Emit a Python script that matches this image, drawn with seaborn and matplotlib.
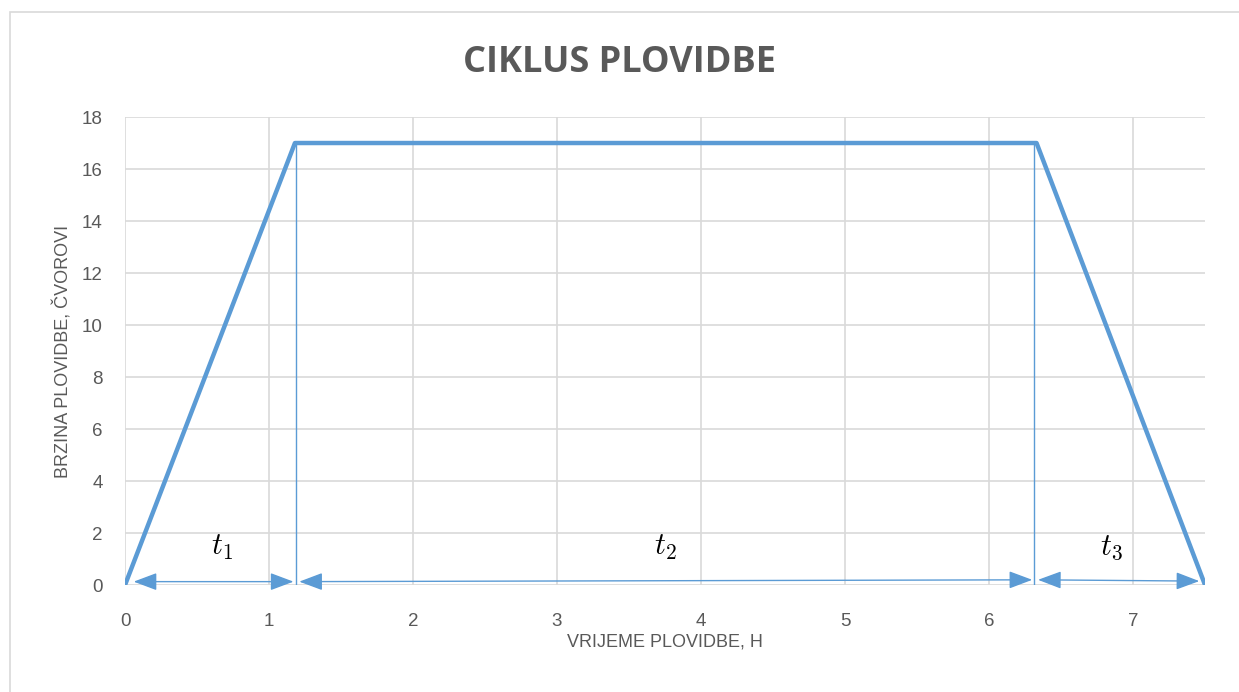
import pandas as pd
import matplotlib.pyplot as plt
import seaborn as sns

# Speed profile (time in hours, speed in knots)
time_h = [0, 1.18, 6.33, 7.5]
speed_kn = [0, 17, 17, 0]

# Thin markers separating the phases
split_times = [1.19, 6.31]
split_top = 17

# Phase arrows along the time axis: start, end, height
arrow_start = [0.06, 1.21, 6.34]
arrow_end = [1.17, 6.30, 7.46]
arrow_y0 = [0.13, 0.13, 0.2]
arrow_y1 = [0.13, 0.2, 0.15]
phase_labels = ['$t_1$', '$t_2$', '$t_3$']
phase_label_x = [0.67, 3.75, 6.85]
phase_label_y = [1.45, 1.45, 1.45]

x_ticks = [0, 1, 2, 3, 4, 5, 6, 7]
y_ticks = [0, 2, 4, 6, 8, 10, 12, 14, 16, 18]

blue = '#5B9BD5'
grey_text = '#595959'

sns.set_theme(style='white')
plt.rcParams['font.family'] = ['Liberation Sans', 'DejaVu Sans']
plt.rcParams['mathtext.fontset'] = 'cm'

fig = plt.figure(figsize=(12.39, 6.92), dpi=100)
ax = fig.add_axes([0.1009, 0.1546, 0.8717, 0.6763])

df = pd.DataFrame({'t': time_h, 'v': speed_kn})
sns.lineplot(data=df, x='t', y='v', color=blue, linewidth=3.2, sort=False,
             estimator=None, ax=ax, zorder=4)

for xs in split_times:
    split_df = pd.DataFrame({'t': [xs, xs], 'v': [0, split_top]})
    sns.lineplot(data=split_df, x='t', y='v', color=blue, linewidth=1.0,
                 estimator=None, sort=False, ax=ax, zorder=3)

for x0, x1, y0, y1 in zip(arrow_start, arrow_end, arrow_y0, arrow_y1):
    ax.annotate('', xy=(x1, y1), xytext=(x0, y0),
                arrowprops=dict(arrowstyle='<|-|>,head_length=1.2,head_width=0.45',
                                color=blue, lw=1.0, shrinkA=0, shrinkB=0), zorder=3)

for lbl, lx, ly in zip(phase_labels, phase_label_x, phase_label_y):
    ax.text(lx, ly, lbl, fontsize=22, ha='center', va='center', color='black')

ax.set_xlim(0, 7.5)
ax.set_ylim(0, 18)
ax.set_xticks(x_ticks)
ax.set_yticks(y_ticks)
ax.grid(True, color='#D9D9D9', linewidth=1.2)
for s in ax.spines.values():
    s.set_visible(False)
ax.tick_params(axis='y', length=0, labelsize=13.5, labelcolor=grey_text, pad=16)
ax.tick_params(axis='x', length=0, labelsize=13.5, labelcolor=grey_text, pad=20)

ax.set_xlabel('VRIJEME PLOVIDBE, H', fontsize=13, color=grey_text, labelpad=3)
ax.set_ylabel('BRZINA PLOVIDBE, ČVOROVI', fontsize=13, color=grey_text, labelpad=7)

fig.suptitle('CIKLUS PLOVIDBE', y=0.935, fontsize=26, fontweight='bold', color=grey_text,
             family=['Open Sans', 'DejaVu Sans'])

# Chart border
fig.patches.append(plt.Rectangle((0.008, -0.01), 1.0, 0.993, transform=fig.transFigure,
                                 fill=False, edgecolor='#D9D9D9', linewidth=1.2))

fig.savefig('out.png', dpi=100)
